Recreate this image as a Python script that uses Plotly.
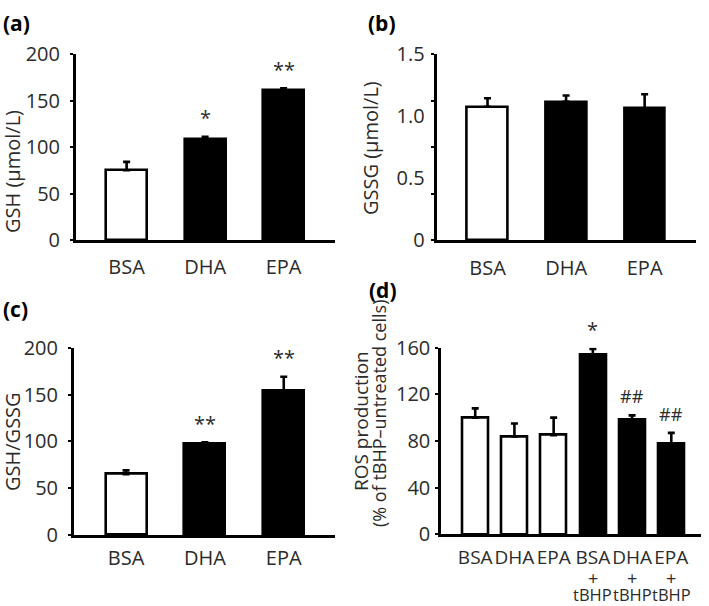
import plotly.graph_objects as go

W, H = 709, 606

# ---------------- data ----------------
cats3 = ["BSA", "DHA", "EPA"]
gsh_vals = [75, 109, 161]
gsh_err = [9, 2, 2]
gsh_sig = ["", "*", "**"]

gssg_vals = [1.075, 1.115, 1.062]
gssg_err = [0.068, 0.05, 0.113]

ratio_vals = [65, 97, 154]
ratio_err = [4, 2, 15]
ratio_sig = ["", "**", "**"]

cats6 = ["BSA", "DHA", "EPA", "BSA+tBHP", "DHA+tBHP", "EPA+tBHP"]
cats6_top = ["BSA", "DHA", "EPA", "BSA", "DHA", "EPA"]
cats6_plus = ["", "", "", "+", "+", "+"]
cats6_sub = ["", "", "", "tBHP", "tBHP", "tBHP"]
ros_vals = [100, 84, 85, 154, 98, 78]
ros_err = [8, 11, 15, 5, 4, 9]
ros_sig = ["", "", "", "*", "##", "##"]

fill3 = ["white", "black", "black"]
fill6 = ["white", "white", "white", "black", "black", "black"]

FONT = "Open Sans"
TXT = "#2b2b2b"


def px_x(x):
    return x / W


def px_y(y):
    return 1 - y / H


fig = go.Figure()


def add_bar(xcats, vals, errs, fills, xa, ya, width):
    fig.add_trace(go.Bar(
        x=list(range(len(xcats))), y=vals,
        marker=dict(color=fills, line=dict(color="black", width=2.6)),
        width=width,
        error_y=dict(type="data", array=errs, arrayminus=[0] * len(errs),
                     symmetric=False, color="black", thickness=2.6, width=3.5),
        xaxis=xa, yaxis=ya, showlegend=False, hoverinfo="skip",
    ))


add_bar(cats3, gsh_vals, gsh_err, fill3, "x", "y", 0.52)
add_bar(cats3, gssg_vals, gssg_err, fill3, "x2", "y2", 0.52)
add_bar(cats3, ratio_vals, ratio_err, fill3, "x3", "y3", 0.52)
add_bar(cats6, ros_vals, ros_err, fill6, "x4", "y4", 0.66)

tickfont = dict(family=FONT, size=20, color=TXT)


def xax(dom, rng, labels, standoff, anchor, size=20):
    return dict(domain=[px_x(dom[0]), px_x(dom[1])], range=rng, anchor=anchor,
                tickmode="array", tickvals=list(range(len(labels))), ticktext=labels,
                showline=True, linecolor="black", linewidth=3, ticks="",
                showgrid=False, zeroline=False,
                tickfont=dict(family=FONT, size=size, color=TXT), tickangle=0,
                automargin=False, ticklabelstandoff=standoff, fixedrange=True)


def yax(dom, rng, tvals, ttext, anchor, standoff, minor=None):
    d = dict(domain=[px_y(dom[1]), px_y(dom[0])], range=rng, anchor=anchor,
             tickmode="array", tickvals=tvals, ticktext=ttext,
             showline=True, linecolor="black", linewidth=3,
             ticks="outside", ticklen=3, tickwidth=2, tickcolor="black",
             showgrid=False, zeroline=False, tickfont=tickfont, automargin=False,
             ticklabelstandoff=standoff, fixedrange=True)
    if minor is not None:
        d["ticks"] = ""
        d["minor"] = minor
    return d


fig.update_layout(
    template="none",
    width=W, height=H,
    margin=dict(l=0, r=0, t=0, b=0, autoexpand=False),
    paper_bgcolor="white", plot_bgcolor="white",
    bargap=0,
    xaxis=xax((76, 335), [-0.645, 2.655], cats3, 7, "y"),
    yaxis=yax((54, 240), [0, 200], [0, 50, 100, 150, 200],
              ["0", "50", "100", "150", "200"], "x", 6),
    xaxis2=xax((436.7, 695.7), [-0.647, 2.65], cats3, 8, "y2"),
    yaxis2=yax((54, 240), [0, 1.5], [0, 0.5, 1.0, 1.5], ["0", "0.5", "1.0", "1.5"], "x2", 5,
               minor=dict(tickmode="linear", tick0=0, dtick=0.375, ticks="outside",
                          ticklen=3, tickwidth=2, tickcolor="black")),
    xaxis3=xax((74, 335), [-0.66, 2.65], cats3, 3, "y3"),
    yaxis3=yax((347.7, 535), [0, 200], [0, 50, 100, 150, 200],
               ["0", "50", "100", "150", "200"], "x3", 6),
    xaxis4=xax((441.3, 700.7), [-0.865, 5.75], cats6_top, 4, "y4", size=19),
    yaxis4=yax((347.7, 534.3), [0, 160], [0, 40, 80, 120, 160],
               ["0", "40", "80", "120", "160"], "x4", 1),
)

ann = []


def sig_ann(labels, vals, errs, xr, yr):
    for i, s in enumerate(labels):
        if not s:
            continue
        ann.append(dict(x=i, y=vals[i] + errs[i], xref=xr, yref=yr, text=s,
                        showarrow=False, yanchor="middle", yshift=19,
                        font=dict(family=FONT, size=20 if "*" in s else 18, color=TXT)))


sig_ann(gsh_sig, gsh_vals, gsh_err, "x", "y")
sig_ann(ratio_sig, ratio_vals, ratio_err, "x3", "y3")
sig_ann(ros_sig, ros_vals, ros_err, "x4", "y4")

# second / third lines of the (d) category labels
for i in range(len(cats6)):
    if cats6_plus[i]:
        ann.append(dict(x=i, y=px_y(578), xref="x4", yref="paper", text=cats6_plus[i],
                        showarrow=False, yanchor="middle",
                        font=dict(family=FONT, size=18, color=TXT)))
        ann.append(dict(x=i, y=px_y(594), xref="x4", yref="paper", text=cats6_sub[i],
                        showarrow=False, yanchor="middle",
                        font=dict(family=FONT, size=16.5, color=TXT)))

# panel letters
for lab, x, y in [("(a)", 1, 23), ("(b)", 366, 23), ("(c)", 1, 309), ("(d)", 367, 290)]:
    ann.append(dict(x=px_x(x), y=px_y(y), xref="paper", yref="paper", text="<b>%s</b>" % lab,
                    showarrow=False, xanchor="left", yanchor="middle",
                    font=dict(family=FONT, size=21, color="black")))

# axis titles
for t, x, y, s in [("GSH (μmol/L)", 12, 172, 20), ("GSSG (μmol/L)", 370, 148, 20),
                   ("GSH/GSSG", 13, 442, 20), ("ROS production", 361, 421, 19),
                   ("(% of tBHP–untreated cells)", 379, 413, 18)]:
    ann.append(dict(x=px_x(x), y=px_y(y), xref="paper", yref="paper", text=t,
                    showarrow=False, textangle=-90, xanchor="center", yanchor="middle",
                    font=dict(family=FONT, size=s, color=TXT)))

fig.update_layout(annotations=ann)
fig.write_html("out.html", config={"displayModeBar": False},
               post_script="document.body.style.margin='0';document.body.style.padding='0';")
